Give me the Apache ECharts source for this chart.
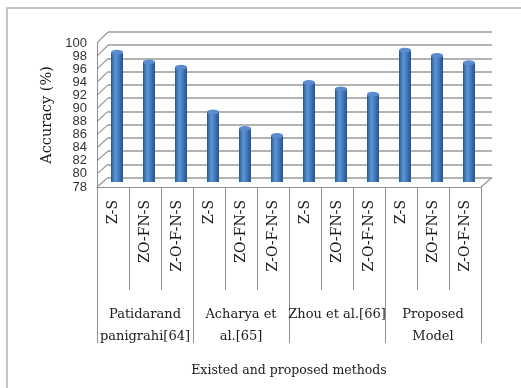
<!DOCTYPE html>
<html>
<head>
<meta charset="utf-8">
<script src="https://cdn.jsdelivr.net/npm/echarts@6/dist/echarts.min.js"></script>
<style>
  html, body { margin: 0; padding: 0; background: #fff; }
  #chart { width: 521px; height: 388px; }
</style>
</head>
<body>
<div id="chart"></div>
<script>
// Methods compared and the feature-set variants evaluated for each
const methods = ['Patidarand\npanigrahi[64]', 'Acharya et\nal.[65]', 'Zhou et al.[66]', 'Proposed\nModel'];
const variants = ['Z-S', 'ZO-FN-S', 'Z-O-F-N-S'];
const categories = methods.flatMap(() => variants);

// Accuracy (%) per method / variant, in category order
const accuracy = [97.8, 96.3, 95.5, 88.7, 86.2, 85.1, 93.2, 92.2, 91.4, 98.1, 97.3, 96.2];

// Value axis range and step
const yMin = 78, yMax = 100, yStep = 2;
const yTicks = [78, 80, 82, 84, 86, 88, 90, 92, 94, 96, 98, 100];

const serif = 'DejaVu Serif';
const lineGray = '#8f8f8f';

// Pseudo-3D geometry: back wall, mid-depth (bars) and front (labels) planes
const back = { left: 108, top: 32, width: 384, height: 145.5 };
const mid = { left: 101, top: 37.5, width: 384, height: 144.5 };
const front = { left: 97, top: 43, width: 384, height: 144 };

const chart = echarts.init(document.getElementById('chart'), null, { renderer: 'canvas' });

const cylinder = new echarts.graphic.LinearGradient(0, 0, 1, 0, [
  { offset: 0, color: '#26508b' },
  { offset: 0.22, color: '#4b82c6' },
  { offset: 0.4, color: '#5b93d7' },
  { offset: 0.7, color: '#3f74b8' },
  { offset: 1, color: '#27528d' }
]);

chart.setOption({
  animation: false,
  backgroundColor: '#fff',
  grid: [back, mid, front].map(g => Object.assign({ containLabel: false }, g)),
  xAxis: [
    { gridIndex: 0, type: 'category', data: categories, show: false },
    { gridIndex: 1, type: 'category', data: categories, show: false },
    {
      gridIndex: 2, type: 'category', data: categories, position: 'bottom',
      axisLine: { show: true, lineStyle: { color: lineGray, width: 1 } },
      axisTick: { show: true, interval: 0, length: 103, lineStyle: { color: lineGray } },
      axisLabel: { interval: 0, rotate: 90, margin: 13, fontFamily: serif, fontSize: 14, color: '#1a1a1a' }
    },
    {
      gridIndex: 2, type: 'category', data: methods, position: 'bottom',
      axisLine: { show: false },
      axisTick: { show: true, interval: 0, length: 156, lineStyle: { color: lineGray } },
      axisLabel: { interval: 0, margin: 117, lineHeight: 22, fontFamily: serif, fontSize: 13, color: '#1a1a1a' },
      name: 'Existed and proposed methods', nameLocation: 'middle', nameGap: 177,
      nameTextStyle: { fontFamily: serif, fontSize: 12.5, color: '#1a1a1a' }
    }
  ],
  yAxis: [
    {
      gridIndex: 0, type: 'value', min: yMin, max: yMax, interval: yStep,
      axisLine: { show: false }, axisTick: { show: false }, axisLabel: { show: false },
      splitLine: { show: true, lineStyle: { color: '#9a9a9a', width: 1.5 } }
    },
    { gridIndex: 1, type: 'value', min: yMin, max: yMax, interval: yStep, show: false, splitLine: { show: false } },
    {
      gridIndex: 2, type: 'value', min: yMin, max: yMax, interval: yStep,
      axisLine: { show: true, lineStyle: { color: lineGray } },
      axisTick: { show: false }, splitLine: { show: false },
      axisLabel: { margin: 10, fontFamily: 'Liberation Sans', fontSize: 13, color: '#333' },
      name: 'Accuracy (%)', nameLocation: 'middle', nameGap: 32,
      nameTextStyle: { fontFamily: serif, fontSize: 14.5, color: '#1a1a1a' }
    }
  ],
  series: [
    {
      type: 'pictorialBar', xAxisIndex: 1, yAxisIndex: 1, data: accuracy,
      symbol: 'circle', symbolSize: [12, 5], symbolPosition: 'start', symbolOffset: [0, '50%'],
      itemStyle: { color: '#2f5e9c' }, z: 1
    },
    {
      type: 'bar', xAxisIndex: 1, yAxisIndex: 1, data: accuracy, barWidth: 12,
      itemStyle: { color: cylinder }, z: 2
    },
    {
      type: 'pictorialBar', xAxisIndex: 1, yAxisIndex: 1, data: accuracy,
      symbol: 'circle', symbolSize: [12, 5], symbolPosition: 'end', symbolOffset: [0, '-50%'],
      itemStyle: { color: '#5a8dcf', borderColor: '#35649f', borderWidth: 0.8 }, z: 3
    }
  ]
});

// Side wall and floor edges joining the front axis to the back wall
const wall = [];
yTicks.forEach(v => {
  const yf = chart.convertToPixel({ yAxisIndex: 2 }, v);
  const yb = chart.convertToPixel({ yAxisIndex: 0 }, v);
  wall.push({
    type: 'line', silent: true,
    shape: { x1: front.left, y1: yf, x2: back.left, y2: yb },
    style: { stroke: '#9a9a9a', lineWidth: 1.2 }
  });
});
const yf0 = chart.convertToPixel({ yAxisIndex: 2 }, yMin);
const yb0 = chart.convertToPixel({ yAxisIndex: 0 }, yMin);
wall.push({
  type: 'line', silent: true,
  shape: { x1: front.left + front.width, y1: yf0, x2: back.left + back.width, y2: yb0 },
  style: { stroke: '#9a9a9a', lineWidth: 1.2 }
});
// Outer chart frame
wall.push({
  type: 'rect', silent: true,
  shape: { x: 7, y: 8, width: 600, height: 500 },
  style: { fill: null, stroke: '#c4c4c4', lineWidth: 2 }
});
chart.setOption({ graphic: wall });
</script>
</body>
</html>
